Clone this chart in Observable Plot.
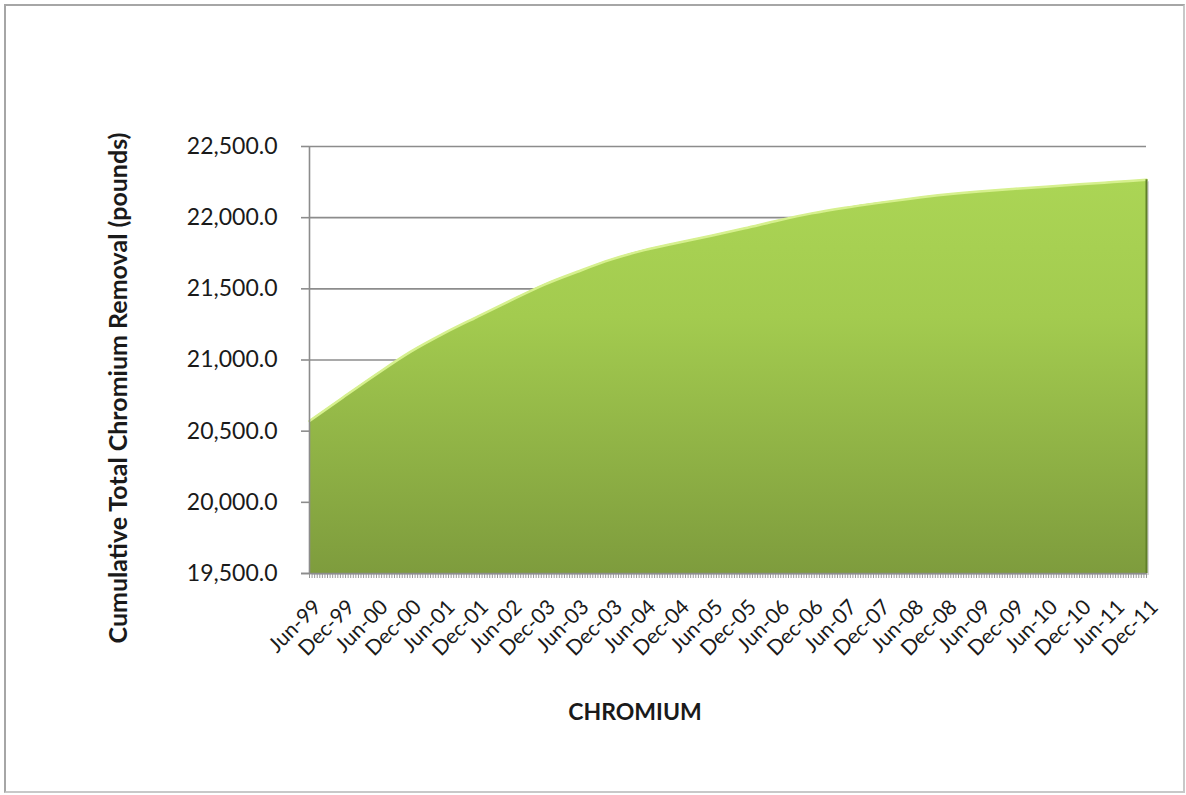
<!DOCTYPE html>
<html>
<head>
<meta charset="utf-8">
<script src="https://cdn.jsdelivr.net/npm/d3@7"></script>
<script src="https://cdn.jsdelivr.net/npm/@observablehq/plot@0.6"></script>
<style>
  html, body { margin: 0; padding: 0; background: #fff; }
  #wrap { position: relative; width: 1186px; height: 795px; overflow: hidden; }
  #frame { position: absolute; left: 4px; top: 4px; width: 1181px; height: 789px;
           border: 2px solid #a6a6a6; border-right-color: #c8c8c8; border-bottom-color: #c8c8c8; box-sizing: border-box; pointer-events: none; }
</style>
</head>
<body>
<div id="wrap"><div id="frame"></div></div>
<script>
// Category labels shown on the x axis (as printed in the original)
const periodLabels = ["Jun-99","Dec-99","Jun-00","Dec-00","Jun-01","Dec-01","Jun-02","Dec-03","Jun-03","Dec-03",
  "Jun-04","Dec-04","Jun-05","Dec-05","Jun-06","Dec-06","Jun-07","Dec-07","Jun-08","Dec-08",
  "Jun-09","Dec-09","Jun-10","Dec-10","Jun-11","Dec-11"];
// Cumulative total chromium removal (pounds) at each labelled period
const removal = [20571, 20737, 20900, 21055, 21185, 21302, 21417, 21528, 21620, 21705,
  21772, 21824, 21873, 21925, 21980, 22030, 22070, 22104, 22135, 22162,
  22184, 22202, 22218, 22234, 22250, 22266];
// y axis tick values
const yTicks = [19500, 20000, 20500, 21000, 21500, 22000, 22500];
// number of data periods between labelled categories (minor tick marks per label)
const periodsPerLabel = 13;
const xTitle = "CHROMIUM";
const yTitle = "Cumulative Total Chromium Removal (pounds)";

const data = removal.map((v, i) => ({i, label: periodLabels[i], v}));
const minorTicks = d3.range(0, (periodLabels.length - 1) * periodsPerLabel + 1).map(k => k / periodsPerLabel);
const last = data[data.length - 1];
const font = "Lato, 'Open Sans', sans-serif";

const chart = Plot.plot({
  width: 1186,
  height: 795,
  marginLeft: 309,
  marginRight: 40,
  marginTop: 146,
  marginBottom: 222,
  style: {fontFamily: font, color: "#1a1a1a", background: "transparent"},
  x: {type: "linear", domain: [0, periodLabels.length - 1]},
  y: {domain: [19500, 22500]},
  marks: [
    Plot.ruleY(yTicks, {stroke: "#8c8c8c", strokeWidth: 1.6}),
    Plot.areaY(data, {x: "i", y1: 19500, y2: "v", fill: "#b0b0b0", fillOpacity: 0.5, curve: "monotone-x", dx: 3, dy: 2}),
    Plot.areaY(data, {x: "i", y1: 19500, y2: "v", fill: "url(#crGrad)", curve: "monotone-x"}),
    Plot.lineY(data, {x: "i", y: "v", stroke: "#d6f08e", strokeWidth: 2.5, curve: "monotone-x"}),
    Plot.ruleX([last], {x: "i", y1: 19500, y2: "v", stroke: "#5f7f28", strokeWidth: 2}),
    Plot.ruleX([0], {stroke: "#8c8c8c", strokeWidth: 1.6}),
    Plot.axisY({ticks: yTicks, tickFormat: d3.format(",.1f"), tickSize: 8, tickPadding: 24,
      fontSize: 23, stroke: "#8c8c8c", strokeWidth: 1.6, label: null}),
    Plot.axisX({ticks: minorTicks, tickSize: 5, tickFormat: () => "", stroke: "#999", label: null}),
    Plot.axisX({ticks: d3.range(periodLabels.length), tickFormat: i => periodLabels[i], tickSize: 0,
      tickPadding: 30, tickRotate: -45, fontSize: 21, dx: 8, label: null}),
    Plot.ruleY([19500], {stroke: "#8c8c8c", strokeWidth: 1.6, insetLeft: -8}),
    Plot.text([yTitle], {frameAnchor: "left", textAnchor: "middle", rotate: -90, dx: -191, dy: 28, fontSize: 25, fontWeight: "bold"}),
    Plot.text([xTitle], {frameAnchor: "bottom", dx: -93, dy: 146, fontSize: 23, fontWeight: "bold"})
  ]
});

const defs = d3.select(chart).insert("defs", ":first-child");
const g = defs.append("linearGradient").attr("id", "crGrad").attr("x1", 0).attr("y1", 0).attr("x2", 0).attr("y2", 1);
g.append("stop").attr("offset", "0%").attr("stop-color", "#abd555");
g.append("stop").attr("offset", "35%").attr("stop-color", "#a3cb4f");
g.append("stop").attr("offset", "100%").attr("stop-color", "#7e9c3d");

document.getElementById("wrap").prepend(chart);
</script>
</body>
</html>
